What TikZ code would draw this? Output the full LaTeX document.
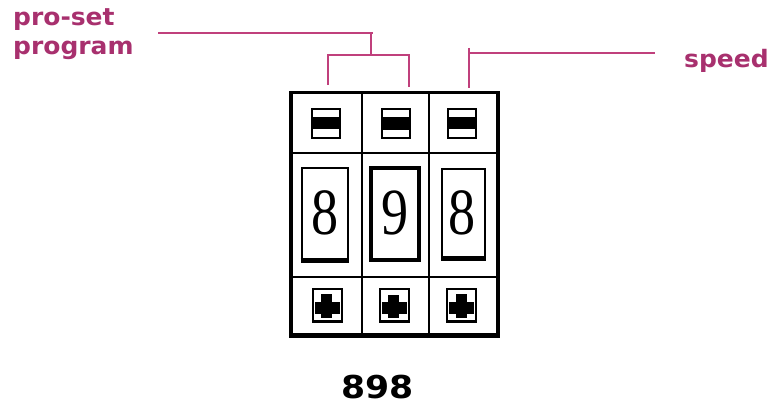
\documentclass[tikz,border=0pt]{standalone}
\usepackage{fontspec}
\setmainfont{DejaVu Sans}
\newfontfamily\serifdig{Liberation Serif}
\definecolor{labelpink}{RGB}{168,48,110}
\definecolor{linepink}{RGB}{192,64,124}
\tikzset{
  lbl/.style={font=\bfseries\fontsize{24}{29}\selectfont, text=labelpink, inner sep=0pt, xscale=1.04, align=left},
  conn/.style={draw=linepink, line width=2pt},
  digitlbl/.style={font=\serifdig\fontsize{66}{66}\selectfont, inner sep=0pt, xscale=0.82},
  minusicon/.pic={
    \draw[line width=2pt] (-14,-14.5) rectangle (14,14.5);
    \fill (-13,-6.6) rectangle (13,6);
  },
  plusicon/.pic={
    \draw[line width=2pt] (-14.5,-16.5) rectangle (14.5,16.5);
    \draw[line width=3pt] (-14.5,16) -- (14.5,16);
    \fill (-12.5,-3.5) rectangle (12.5,8.5);
    \fill (-6,-11) rectangle (5,12.5);
  }
}
\begin{document}
\begin{tikzpicture}[x=1pt,y=-1pt]
\useasboundingbox[fill=white] (0,0) rectangle (771,406);

% labels
\node[lbl, anchor=base west] (proset) at (13,55) {pro-set\\program};
\node[lbl, anchor=base west] (speed) at (684,68) {speed};

% connector points
\coordinate (pl) at (158,33);
\coordinate (pr) at (373,33);
\coordinate (tk) at (371,33);
\coordinate (bm) at (371,55);
\coordinate (bl) at (328,55);
\coordinate (br) at (409,55);
\coordinate (blb) at (328,85);
\coordinate (brb) at (409,87);
\coordinate (sv) at (469.3,53.3);
\coordinate (svt) at (469.3,48);
\coordinate (svb) at (469.3,88);
\coordinate (sh) at (655,53.3);

\draw[conn] (pl) -- (pr);
\draw[conn] (tk) -- (bm);
\draw[conn] (blb) -- (bl) -- (br) -- (brb);
\draw[conn] (svt) -- (svb);
\draw[conn] (sv) -- (sh);

% panel grid
\draw[line width=2pt] (361.7,92.7) -- (361.7,336.7);
\draw[line width=2pt] (429,92.7) -- (429,336.7);
\draw[line width=2pt] (291,152.7) -- (498,152.7);
\draw[line width=2pt] (291,276.7) -- (498,276.7);
\draw[line width=3.5pt] (291,92.7) rectangle (498,336.7);
\draw[line width=5pt] (289.5,335.5) -- (499.5,335.5);

% minus buttons
\pic at (326,123.5) {minusicon};
\pic at (395.5,124) {minusicon};
\pic at (462,123.5) {minusicon};

% digit windows
\draw[line width=2pt] (301.7,168.3) rectangle (347.7,261.7);
\draw[line width=5pt] (300.7,260) -- (348.7,260);
\draw[line width=4pt] (371,168) rectangle (419.3,260);
\draw[line width=2pt] (442.3,169) rectangle (485,260);
\draw[line width=5pt] (441.3,258.5) -- (486,258.5);

\node[digitlbl, anchor=base] (d1) at (325,234) {8};
\node[digitlbl, anchor=base] (d2) at (395,234) {9};
\node[digitlbl, anchor=base] (d3) at (462,234) {8};

% plus buttons
\pic at (327,305) {plusicon};
\pic at (394,305.5) {plusicon};
\pic at (461.7,305) {plusicon};

% code
\node[font=\bfseries\fontsize{31.5}{31.5}\selectfont, inner sep=0pt, anchor=base, xscale=1.1] (code) at (377.5,398) {898};
\end{tikzpicture}
\end{document}
